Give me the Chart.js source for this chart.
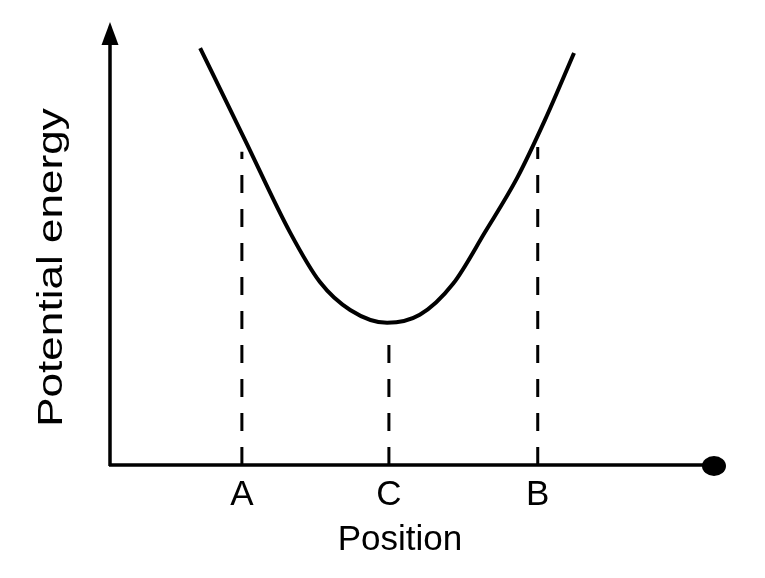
<!DOCTYPE html>
<html>
<head>
<meta charset="utf-8">
<script src="https://cdn.jsdelivr.net/npm/chart.js@4"></script>
<style>
  html, body { margin: 0; padding: 0; background: #fff; }
  #wrap { width: 765px; height: 578px; }
</style>
</head>
<body>
<div id="wrap"><canvas id="chart" width="765" height="578"></canvas></div>
<script>
// curve (arbitrary units, axis origin = 0,0)
const curveX = [1.49, 2.23, 2.98, 3.47, 3.97, 4.58, 5.12, 5.67, 6.20, 6.73, 7.19, 7.67];
const curveY = [9.41, 7.34, 5.24, 4.13, 3.50, 3.21, 3.39, 4.09, 5.26, 6.48, 7.79, 9.30];

// dashed markers A, C, B
const markLabels = ['A', 'C', 'B'];
const markX = [2.18, 4.61, 7.07];
const markTop = [7.07, 2.89, 7.18];

const xTitle = 'Position';
const yTitle = 'Potential energy';

const FONT = '35px "Liberation Sans", Arial, sans-serif';

const datasets = [{
  data: curveX.map((x, i) => ({ x: x, y: curveY[i] })),
  borderColor: '#000',
  borderWidth: 4,
  pointRadius: 0,
  showLine: true,
  cubicInterpolationMode: 'monotone'
}];
markX.forEach((x, i) => {
  datasets.push({
    data: [{ x: x, y: 0 }, { x: x, y: markTop[i] }],
    borderColor: '#000',
    borderWidth: 3,
    borderDash: [18, 16],
    pointRadius: 0,
    showLine: true
  });
});

// draws axes, arrow heads and the labels
const axesPlugin = {
  id: 'axes',
  afterDatasetsDraw(chart) {
    const ctx = chart.ctx;
    const xs = chart.scales.x, ys = chart.scales.y;
    const x0 = xs.getPixelForValue(0), y0 = ys.getPixelForValue(0);
    const xEnd = xs.getPixelForValue(xs.max), yEnd = ys.getPixelForValue(ys.max);
    ctx.save();
    ctx.strokeStyle = '#000';
    ctx.fillStyle = '#000';
    ctx.lineWidth = 3.5;
    ctx.beginPath();
    ctx.moveTo(x0, y0 + 1);
    ctx.lineTo(x0, yEnd + 15);
    ctx.moveTo(x0 - 1, y0);
    ctx.lineTo(xEnd - 6, y0);
    ctx.stroke();
    // arrow up
    ctx.beginPath();
    ctx.moveTo(x0, yEnd);
    ctx.lineTo(x0 - 8.5, yEnd + 23);
    ctx.lineTo(x0 + 8.5, yEnd + 23);
    ctx.closePath();
    ctx.fill();
    // blob at right end
    ctx.beginPath();
    ctx.ellipse(xEnd - 1, y0 + 1, 12, 10, 0, 0, Math.PI * 2);
    ctx.fill();

    ctx.font = FONT;
    ctx.textAlign = 'center';
    ctx.textBaseline = 'alphabetic';
    markLabels.forEach((t, i) => {
      ctx.fillText(t, xs.getPixelForValue(markX[i]), y0 + 40);
    });
    ctx.fillText(xTitle, x0 + 290, y0 + 85);

    ctx.translate(x0 - 48, (y0 + yEnd) / 2 + 24);
    ctx.rotate(-Math.PI / 2);
    ctx.scale(1.26, 1);
    ctx.fillText(yTitle, 0, 0);
    ctx.restore();
  }
};

new Chart(document.getElementById('chart').getContext('2d'), {
  type: 'scatter',
  data: { datasets: datasets },
  options: {
    responsive: false,
    animation: false,
    layout: { padding: { left: 110, right: 50, top: 22, bottom: 113 } },
    plugins: { legend: { display: false }, tooltip: { enabled: false } },
    scales: {
      x: { type: 'linear', min: 0, max: 10, display: false },
      y: { type: 'linear', min: 0, max: 10, display: false }
    }
  },
  plugins: [axesPlugin]
});
</script>
</body>
</html>
